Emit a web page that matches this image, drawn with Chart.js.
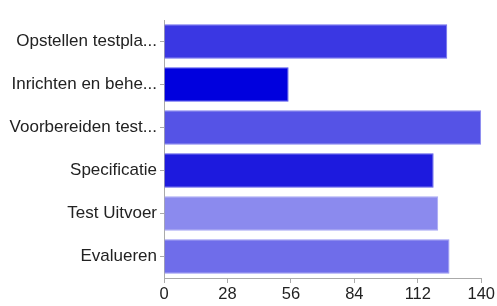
<!DOCTYPE html>
<html><head><meta charset="utf-8">
<script src="https://cdn.jsdelivr.net/npm/chart.js@4/dist/chart.umd.min.js"></script>
<style>html,body{margin:0;padding:0;background:#fff;}#wrap{width:497px;height:306px;}</style>
</head><body><div id="wrap"><canvas id="c" width="497" height="306"></canvas></div>
<script>
const categories = ["Opstellen testpla...", "Inrichten en behe...", "Voorbereiden test...", "Specificatie", "Test Uitvoer", "Evalueren"];
const values = [125, 55, 140, 119, 121, 126];
const barColors = ["#3a37e3", "#0000de", "#5553e6", "#1d1ade", "#8b8aee", "#6f6dea"];
const barBorders = ["#6f6dee", "#5050ee", "#8584f0", "#5a58ea", "#a9a8f4", "#9594f2"];
const xTicks = [0, 28, 56, 84, 112, 140];

new Chart(document.getElementById('c'), {
  type: 'bar',
  data: { labels: categories, datasets: [{ data: values, backgroundColor: barColors, borderColor: barBorders, borderWidth: 1, categoryPercentage: 1, barPercentage: 0.8 }] },
  options: {
    indexAxis: 'y', responsive: false, animation: false,
    layout: { padding: { top: 20, right: 15, left: 0, bottom: 0 } },
    plugins: { legend: { display: false }, tooltip: { enabled: false } },
    scales: {
      x: {
        min: 0, max: 140,
        afterBuildTicks: (s) => { s.ticks = xTicks.map(v => ({ value: v })); },
        afterFit: (s) => { s.height = 28; },
        grid: { drawOnChartArea: false, drawTicks: true, tickLength: 5, color: '#aaa' },
        border: { color: '#aaa', width: 1 },
        ticks: { color: '#222', font: { family: 'Liberation Sans, Arial, sans-serif', size: 16.5 }, padding: 2, maxRotation: 0, autoSkip: false }
      },
      y: {
        afterFit: (s) => { s.width = 164; },
        grid: { drawOnChartArea: false, drawTicks: true, tickLength: 4, offset: false, color: '#aaa' },
        border: { color: '#aaa', width: 1 },
        ticks: { color: '#222', font: { family: 'Liberation Sans, Arial, sans-serif', size: 17 }, padding: 3, autoSkip: false }
      }
    }
  }
});
</script></body></html>
